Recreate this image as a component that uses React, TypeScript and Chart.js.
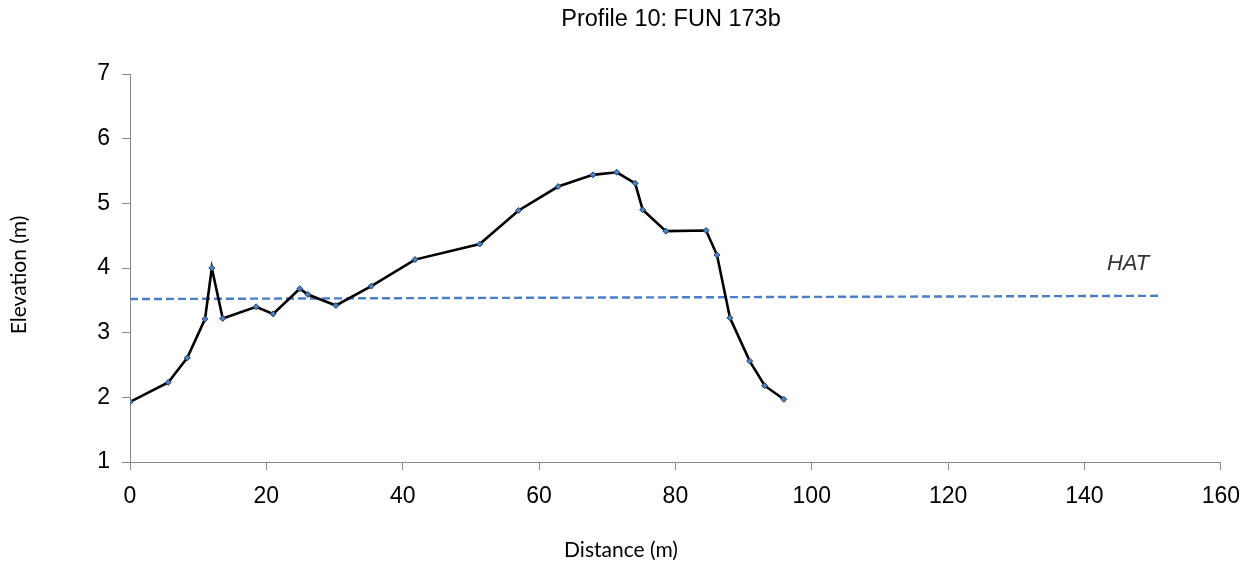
import React, { useEffect, useRef } from "react";
import { Chart, registerables } from "chart.js";

Chart.register(...registerables);

const distance = [0, 5.6, 8.4, 11.0, 12.0, 13.6, 18.5, 21.0, 24.9, 26.1, 30.2, 35.4, 41.8, 51.3, 57.0, 62.8, 67.9, 71.4, 74.1, 75.2, 78.6, 84.5, 86.1, 88.0, 90.9, 93.1, 95.9];
const elevation = [1.93, 2.23, 2.61, 3.21, 4.0, 3.22, 3.4, 3.29, 3.68, 3.59, 3.42, 3.72, 4.13, 4.37, 4.89, 5.26, 5.44, 5.48, 5.31, 4.9, 4.57, 4.58, 4.2, 3.23, 2.56, 2.18, 1.97];
const hatDistance = [0, 151];
const hatElevation = [3.52, 3.57];
const xTicks = [0, 20, 40, 60, 80, 100, 120, 140, 160];
const yTicks = [1, 2, 3, 4, 5, 6, 7];

const chartTitle = "Profile 10: FUN 173b";
const xTitle = "Distance (m)";
const yTitle = "Elevation (m)";
const hatLabel = "HAT";

const textPlugin = {
  id: "texts",
  afterDraw(chart: any) {
    const ctx = chart.ctx as CanvasRenderingContext2D;
    const xs = chart.scales.x;
    const ys = chart.scales.y;
    ctx.save();
    ctx.fillStyle = "#000";
    ctx.textAlign = "center";
    ctx.textBaseline = "middle";
    ctx.font = "23.5px 'Liberation Sans', Arial, sans-serif";
    ctx.fillText(chartTitle, 671, 20);
    ctx.font = "21px Lato, 'Noto Sans', sans-serif";
    ctx.fillText(xTitle, 621, 550);
    ctx.save();
    ctx.translate(19, 275);
    ctx.rotate(-Math.PI / 2);
    ctx.fillText(yTitle, 0, 0);
    ctx.restore();
    ctx.fillStyle = "#333";
    ctx.font = "italic 22px 'Liberation Sans', Arial, sans-serif";
    ctx.fillText(hatLabel, xs.getPixelForValue(146.4), ys.getPixelForValue(4.07));
    ctx.restore();
  },
};

export default function App() {
  const ref = useRef<HTMLCanvasElement | null>(null);
  useEffect(() => {
    document.body.style.margin = "0";
    if (!ref.current) return;
    const chart = new Chart(ref.current, {
      type: "scatter",
      data: {
        datasets: [
          {
            label: "HAT",
            data: hatDistance.map((x, i) => ({ x, y: hatElevation[i] })),
            showLine: true,
            borderColor: "#4A7EC7",
            borderWidth: 2.4,
            borderDash: [8, 4],
            pointRadius: 0,
            order: 2,
          },
          {
            label: "Profile",
            data: distance.map((x, i) => ({ x, y: elevation[i] })),
            showLine: true,
            borderColor: "#000",
            borderWidth: 2.6,
            pointStyle: "rectRot",
            pointRadius: 3,
            pointBackgroundColor: "#4F81BD",
            pointBorderColor: "#1F3F6F",
            pointBorderWidth: 1,
            order: 1,
          },
        ],
      },
      options: {
        responsive: false,
        animation: false,
        layout: { padding: { left: 0, right: 28, top: 74, bottom: 0 } },
        plugins: { legend: { display: false }, title: { display: false }, tooltip: { enabled: false } },
        scales: {
          x: {
            type: "linear",
            min: 0,
            max: 160,
            afterBuildTicks: (s: any) => { s.ticks = xTicks.map((v) => ({ value: v })); },
            afterFit: (s: any) => { s.height = 105; },
            ticks: { color: "#000", padding: 13, font: { family: "'Liberation Sans', Arial, sans-serif", size: 23 } },
            grid: { drawOnChartArea: false, drawTicks: true, tickLength: 8, color: "#888" },
            border: { color: "#888" },
          },
          y: {
            type: "linear",
            min: 1,
            max: 7,
            afterBuildTicks: (s: any) => { s.ticks = yTicks.map((v) => ({ value: v })); },
            afterFit: (s: any) => { s.width = 130; },
            ticks: { color: "#000", padding: 12, font: { family: "'Liberation Sans', Arial, sans-serif", size: 23 } },
            grid: { drawOnChartArea: false, drawTicks: true, tickLength: 8, color: "#888" },
            border: { color: "#888" },
          },
        },
      },
      plugins: [textPlugin],
    });
    return () => chart.destroy();
  }, []);
  return (
    <div style={{ width: 1253, height: 567, background: "#fff" }}>
      <canvas ref={ref} width={1253} height={567} />
    </div>
  );
}
